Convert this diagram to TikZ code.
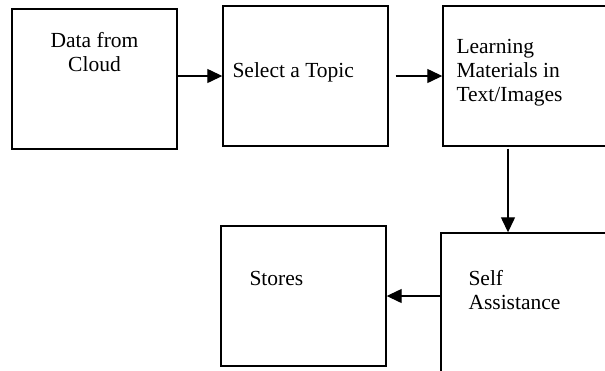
\documentclass[tikz,border=0pt]{standalone}
\usepackage{fontspec}
\setmainfont{Liberation Serif}
\usetikzlibrary{arrows.meta}

\begin{document}
\begin{tikzpicture}[x=1pt,y=-1pt,
 box/.style ={draw=black,line width=1.4pt,minimum width=165pt,minimum height=140pt,inner sep=0pt},
 boxtext/.style ={font=\fontsize{21.5}{24}\selectfont,align=left,inner sep=0pt},
 flow/.style ={-{Triangle[length=15pt,width=14pt]},line width=1.3pt,draw=black}
 ]
\useasboundingbox (0,0) rectangle (605,370);
\clip (0,0) rectangle (605,370);
%draw boxes of the top row
\node[box] (cloud) at (94.5,79) {};
\node[box] (topic) at (305.5,76) {};
\node[box,minimum width=180pt] (materials) at (533,76) {};
%draw boxes of the bottom row
\node[box] (stores) at (303.5,296) {};
\node[box,minimum width=180pt,minimum height=160pt] (assist) at (531,313) {};
%draw texts
\node[boxtext,anchor=north,align=center] (cloudtext) at ([yshift=-23.5pt]cloud.north) {Data from\\Cloud};
\node[boxtext,anchor=base west] (topictext) at ([xshift=10pt,yshift=-1pt]topic.west) {Select a Topic};
\node[boxtext,anchor=north west] (materialstext) at ([xshift=14pt,yshift=-34pt]materials.north west) {Learning\\Materials in\\Text/Images};
\node[boxtext,anchor=base west] (storestext) at ([xshift=29pt,yshift=11pt]stores.west) {Stores};
\node[boxtext,anchor=north west] (assisttext) at ([xshift=28pt,yshift=-38pt]assist.north west) {Self\\Assistance};
%draw flow
\draw[flow] (cloud.east |- topic.west) -- (topic.west);
\draw[flow] ([xshift=7pt]topic.east) -- (materials.west);
\draw[flow] ([xshift=-25pt,yshift=-2pt]materials.south) -- ([xshift=-25pt]materials.south |- assist.north);
\draw[flow] (assist.west |- stores.east) -- (stores.east);
\end{tikzpicture}
\end{document}
